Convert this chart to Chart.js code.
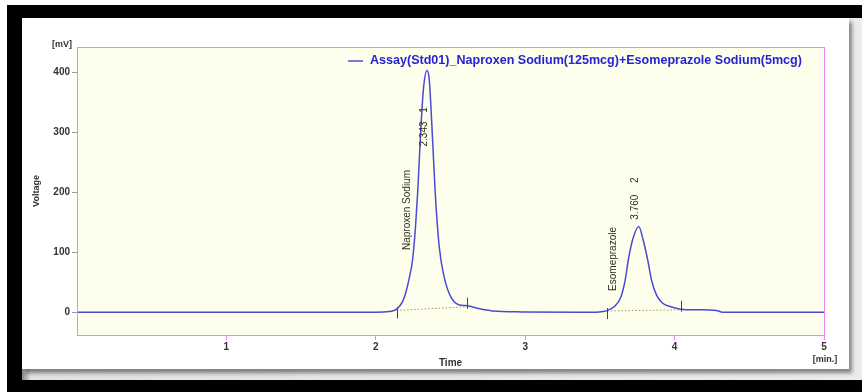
<!DOCTYPE html>
<html lang="en">
<head>
<meta charset="UTF-8">
<title>Chromatogram</title>
<script src="https://cdn.jsdelivr.net/npm/chart.js"></script>
<style>
  html, body { margin: 0; padding: 0; background: #fff; }
  body { width: 862px; height: 392px; position: relative; overflow: hidden; }
  .frame { position: absolute; left: 7px; top: 5px; right: 0; bottom: 0; background: #000; }
  .panel { position: absolute; left: 15px; top: 13px; right: 0; bottom: 12px;
           background: linear-gradient(to right, #8a8a8a 0px, #e2e2e2 9px, #ececec 100%); }
  .card { position: absolute; left: 22px; top: 18px; width: 827px; height: 351px; background: #fff;
          box-shadow: 3px 4px 4px rgba(0,0,0,0.45); }
  canvas { position: absolute; left: 0; top: 0; }
</style>
</head>
<body>
<div class="frame"><div class="panel"></div></div>
<div class="card"></div>
<canvas id="chrom" width="862" height="392"></canvas>
<script>
// detector trace (min, mV)
const times = [0, 1, 2.0, 2.09, 2.14, 2.18, 2.20, 2.225, 2.246, 2.265, 2.28, 2.302, 2.32, 2.343, 2.358,
               2.376, 2.398, 2.425, 2.458, 2.503, 2.559, 2.60, 2.63, 2.69, 2.78, 2.98, 3.47, 3.52, 3.55,
               3.595, 3.64, 3.669, 3.69, 3.718, 3.76, 3.79, 3.82, 3.846, 3.88, 3.92, 3.975, 4.04, 4.15,
               4.28, 4.32, 5.0];
const voltage = [0, 0, 0, 1, 5, 18, 32, 58, 87, 140, 198, 308, 375, 403, 387,
                 308, 198, 108, 58, 25, 12, 11, 10, 6, 2, 0.5, 0, 1, 3,
                 9, 25, 53, 87, 120, 143, 120, 87, 53, 28, 15, 9, 5, 4,
                 3, 0, 0];

const legendLabel = 'Assay(Std01)_Naproxen Sodium(125mcg)+Esomeprazole Sodium(5mcg)';
const xTicks = [1, 2, 3, 4, 5];
const yTicks = [0, 100, 200, 300, 400];

// peak table
const peakNumbers = ['1', '2'];
const retentionTimes = [2.343, 3.760];
const peakNames = ['Naproxen Sodium', 'Esomeprazole'];
const peakStarts = [2.14, 3.55];
const peakEnds = [2.61, 4.04];
const baseStartValues = [3, 2];
const baseEndValues = [9, 4];

const FONT = 'Arial, "Liberation Sans", sans-serif';

const datasets = [{
    data: times.map((t, i) => ({ x: t, y: voltage[i] })),
    borderColor: '#4a4ad6',
    borderWidth: 1.5,
    pointRadius: 0,
    cubicInterpolationMode: 'monotone'
}];
peakStarts.forEach((s, i) => {
    datasets.push({
        data: [{ x: s, y: baseStartValues[i] }, { x: peakEnds[i], y: baseEndValues[i] }],
        borderColor: '#a89a60',
        borderWidth: 1,
        borderDash: [1.5, 2],
        pointRadius: 0
    });
});

const frame = {
    id: 'frame',
    beforeDraw(chart) {
        const { ctx, chartArea: a } = chart;
        ctx.save();
        ctx.fillStyle = '#fefeec';
        ctx.fillRect(a.left, a.top, a.right - a.left, a.bottom - a.top);
        ctx.restore();
    },
    afterDraw(chart) {
        const { ctx, chartArea: a } = chart;
        const xs = chart.scales.x, ys = chart.scales.y;
        ctx.save();
        ctx.strokeStyle = '#ee82ee';
        ctx.lineWidth = 1;
        ctx.strokeRect(a.left + 0.5, a.top + 0.5, a.right - a.left, a.bottom - a.top);

        // unit labels
        ctx.fillStyle = '#333';
        ctx.font = 'bold 9px ' + FONT;
        ctx.textBaseline = 'middle';
        ctx.textAlign = 'right';
        ctx.fillText('[mV]', a.left - 5, a.top - 2);
        ctx.textAlign = 'center';
        ctx.fillText('[min.]', a.right + 1, 360);

        // legend
        const lx = a.left + 293, ly = a.top + 14;
        ctx.strokeStyle = '#7b7bd0';
        ctx.lineWidth = 2;
        ctx.beginPath();
        ctx.moveTo(lx - 22, ly);
        ctx.lineTo(lx - 7, ly);
        ctx.stroke();
        ctx.font = 'bold 10px ' + FONT;
        const w = ctx.measureText(legendLabel).width;
        const size = 10 * 432 / w;
        ctx.font = 'bold ' + size.toFixed(2) + 'px ' + FONT;
        ctx.fillStyle = '#2424d2';
        ctx.textAlign = 'left';
        ctx.fillText(legendLabel, lx, ly);

        // peak labels (rotated, reading upward)
        const layout = [
            { numV: 337, rtV: 297, nameV: 237, dx: -3, nameDx: -20 },
            { numV: 220, rtV: 175, nameV: 142, dx: -3, nameDx: -25 }
        ];
        ctx.fillStyle = '#2e2e22';
        ctx.font = '10px ' + FONT;
        retentionTimes.forEach((rt, i) => {
            const L = layout[i];
            const px = xs.getPixelForValue(rt);
            const put = (txt, x, y, align) => {
                ctx.save();
                ctx.translate(x, y);
                ctx.rotate(-Math.PI / 2);
                ctx.textAlign = align;
                ctx.fillText(txt, 0, 0);
                ctx.restore();
            };
            put(peakNumbers[i], px + L.dx, ys.getPixelForValue(L.numV), 'center');
            put(rt.toFixed(3), px + L.dx, ys.getPixelForValue(L.rtV), 'center');
            put(peakNames[i], px + L.nameDx, ys.getPixelForValue(L.nameV), 'right');

            // integration start / end marks
            ctx.strokeStyle = '#444';
            ctx.lineWidth = 1;
            const sx = Math.round(xs.getPixelForValue(peakStarts[i])) + 0.5;
            const sy = ys.getPixelForValue(baseStartValues[i]);
            const ex = Math.round(xs.getPixelForValue(peakEnds[i])) + 0.5;
            const ey = ys.getPixelForValue(baseEndValues[i]);
            ctx.beginPath();
            ctx.moveTo(sx, sy - 3);
            ctx.lineTo(sx, sy + 8);
            ctx.moveTo(ex, ey + 2);
            ctx.lineTo(ex, ey - 9);
            ctx.stroke();
        });
        ctx.restore();
    }
};

new Chart(document.getElementById('chrom'), {
    type: 'line',
    data: { datasets: datasets },
    options: {
        responsive: false,
        animation: false,
        layout: { padding: { left: 31, top: 47, right: 38, bottom: 23 } },
        plugins: { legend: { display: false }, tooltip: { enabled: false } },
        scales: {
            x: {
                type: 'linear',
                min: 0,
                max: 5,
                afterBuildTicks: s => { s.ticks = xTicks.map(v => ({ value: v })); },
                afterFit: s => { s.height = 34; },
                ticks: { color: '#333', font: { family: FONT, size: 10, weight: 'bold' }, padding: 1,
                         maxRotation: 0, autoSkip: false },
                grid: { drawOnChartArea: false, color: '#ee82ee', tickLength: 5 },
                border: { display: false },
                title: { display: true, text: 'Time', color: '#333',
                         font: { family: FONT, size: 10, weight: 'bold' }, padding: 0 }
            },
            y: {
                min: -38,
                max: 442,
                afterBuildTicks: s => { s.ticks = yTicks.map(v => ({ value: v })); },
                afterFit: s => { s.width = 46; },
                ticks: { color: '#333', font: { family: FONT, size: 10, weight: 'bold' }, padding: 2 },
                grid: { drawOnChartArea: false, color: '#999', tickLength: 5 },
                border: { display: false },
                title: { display: true, text: 'Voltage', color: '#333',
                         font: { family: FONT, size: 9, weight: 'bold' }, padding: 0 }
            }
        }
    },
    plugins: [frame]
});
</script>
</body>
</html>
